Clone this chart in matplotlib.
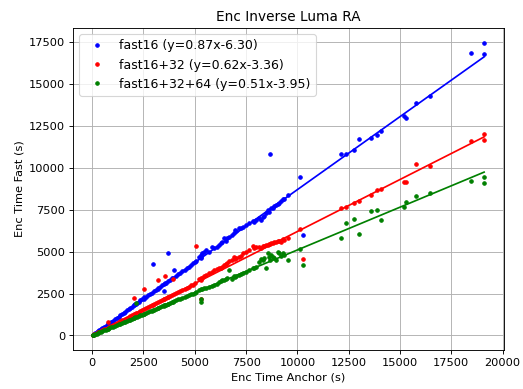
import numpy as np
import matplotlib
matplotlib.use("Agg")
import matplotlib.pyplot as plt

# anchor encoding time (s), shared by all three configs
anchor = [
    20, 60, 110, 160, 220, 280, 350, 420, 500, 580, 660, 750, 760, 840, 930,
    1020, 1110, 1200, 1290, 1370, 1450, 1530, 1610, 1700, 1780, 1860, 1940,
    2020, 2050, 2100, 2150, 2180, 2260, 2350, 2430, 2510, 2540,
    2600, 2700, 2800, 2900, 2964, 3000, 3100, 3194, 3200, 3300, 3400, 3487,
    3500, 3565, 3600, 3697, 3700, 3800, 3900, 3941, 4000, 4100, 4200, 4300,
    4400, 4500, 4600, 4700, 4800, 4900, 5000, 5079, 5211, 5289, 5290, 5310,
    5372, 5455, 5537, 5699, 5860, 5943, 6104, 6187, 6270, 6348, 6431, 6514,
    6592, 6675, 6837, 6919, 6968, 7003, 7164, 7247, 7325, 7491, 7652, 7813,
    7896, 7979, 8140, 8223, 8301, 8384, 8467, 8546, 8628, 8677, 8711, 8789,
    8872, 8955, 9033, 9115, 9199, 9280, 9360, 9520, 10142, 10255,
    12129, 12374, 12779, 12990, 13595, 13871, 14097, 15172, 15270, 15758,
    16474, 18477, 19094, 19100,
]

fast16 = [
    15, 50, 95, 140, 195, 245, 305, 370, 440, 505, 575, 655, 660, 735, 810,
    880, 960, 1045, 1120, 1190, 1270, 1330, 1400, 1490, 1560, 1650, 1700,
    1790, 1800, 1850, 1890, 1960, 1990, 2090, 2150, 2290, 2200,
    2280, 2390, 2470, 2540, 4250, 2620, 2720, 2780, 2800, 2870, 2990, 2650,
    3050, 3100, 3120, 4890, 3240, 3310, 3400, 3430, 3900, 3560, 3660, 3720,
    3860, 3890, 4030, 4080, 4200, 4290, 4350, 4420, 4688, 4795, 4610, 4650,
    4891, 4993, 5089, 5000, 5251, 5191, 5286, 5388, 5490, 5586, 5789, 5646,
    5789, 5885, 5987, 6089, 6286, 6200, 6388, 6388, 6484, 6580, 6700, 6843,
    6783, 6885, 6987, 6885, 7083, 7150, 7322, 7484, 7382, 10818, 7585, 7620,
    7700, 7780, 7825, 7900, 8000, 8125, 8125, 8382, 9441, 5987,
    10818, 10818, 11076, 11716, 11775, 11955, 12213, 13070, 12950, 13830,
    14267, 16823, 17464, 16790,
]

fast16_32 = [
    12, 38, 70, 100, 140, 175, 220, 260, 310, 360, 410, 465, 800, 520, 575,
    630, 690, 745, 800, 850, 900, 950, 1000, 1055, 1105, 1150, 1210,
    1250, 2230, 1300, 1330, 1355, 1400, 1460, 1510, 1560, 2750,
    1620, 1680, 1740, 1800, 1840, 1860, 1920, 3290, 1990, 2050, 2110, 2160,
    2170, 3530, 2230, 2290, 2300, 2350, 2420, 3340, 2480, 2540, 2600, 2670,
    2720, 2790, 2850, 2910, 2980, 3030, 3100, 5330, 3394, 3430, 2150, 3300,
    3454, 3520, 3592, 3694, 3790, 3891, 3933, 3993, 4040, 4089, 4191, 4251,
    4329, 4448, 4490, 4652, 4560, 4592, 4688, 4750, 4891, 4987, 5089, 5328,
    5200, 5251, 5286, 5191, 5328, 5350, 5388, 5420, 5448, 5480, 5500, 5526,
    5560, 5600, 5646, 5620, 5586, 5729, 5688, 5825, 6365, 4532,
    7585, 7681, 7921, 8041, 8400, 8681, 8741, 9140, 9140, 10238,
    10077, 11615, 12034, 11656,
]

fast16_32_64 = [
    10, 30, 55, 82, 112, 142, 178, 215, 255, 296, 337, 383, 390, 428, 474,
    520, 565, 610, 655, 700, 740, 780, 820, 865, 905, 950, 990,
    1030, 1045, 1070, 1930, 1110, 1150, 1200, 1240, 1280, 1300,
    1330, 1380, 1430, 1480, 1510, 1530, 1580, 1630, 1630, 1690, 1740, 1780,
    1790, 1820, 1840, 1890, 1890, 1940, 1990, 2010, 2040, 2090, 2150, 2200,
    2250, 2300, 2350, 2400, 2450, 2500, 2550, 2590, 2700, 2760, 2200, 1990,
    2796, 2830, 2856, 2892, 2934, 2994, 3095, 3191, 3230, 3293, 3293, 3394,
    3420, 3891, 3394, 3532, 3490, 3540, 3592, 3650, 3694, 3780, 3891, 3993,
    4030, 4089, 4389, 4532, 4490, 4592, 3993, 4891, 4652, 4520, 4790, 4700,
    4592, 4490, 4987, 4891, 4750, 4891, 4800, 4490, 5167, 4191,
    5789, 6723, 6927, 6065, 7442, 7484, 6885, 7645, 7963, 8322,
    8483, 9220, 9418, 9081,
]

labels = ["fast16", "fast16+32", "fast16+32+64"]
slopes = [0.87, 0.62, 0.51]
intercepts = [-6.30, -3.36, -3.95]
colors = ["blue", "red", "green"]

fig = plt.figure(figsize=(6.4, 4.76), dpi=81.75)
ax = fig.add_axes([0.1396, 0.1003, 0.8231, 0.8277])

x = np.array(anchor)
for ys, lab, k, d, c in zip([fast16, fast16_32, fast16_32_64], labels, slopes, intercepts, colors):
    ax.plot(x, ys, ".", color=c, label=f"{lab} (y={k:.2f}x{d:.2f})")
    xl = np.array([x.min(), x.max()])
    ax.plot(xl, k * xl + d, "-", color=c)

ax.set_title("Enc Inverse Luma RA")
ax.set_xlabel("Enc Time Anchor (s)")
ax.set_ylabel("Enc Time Fast (s)")
ax.grid(True)
ax.legend(loc="upper left", fontsize=11)

fig.savefig("out.png", dpi=81.75)
